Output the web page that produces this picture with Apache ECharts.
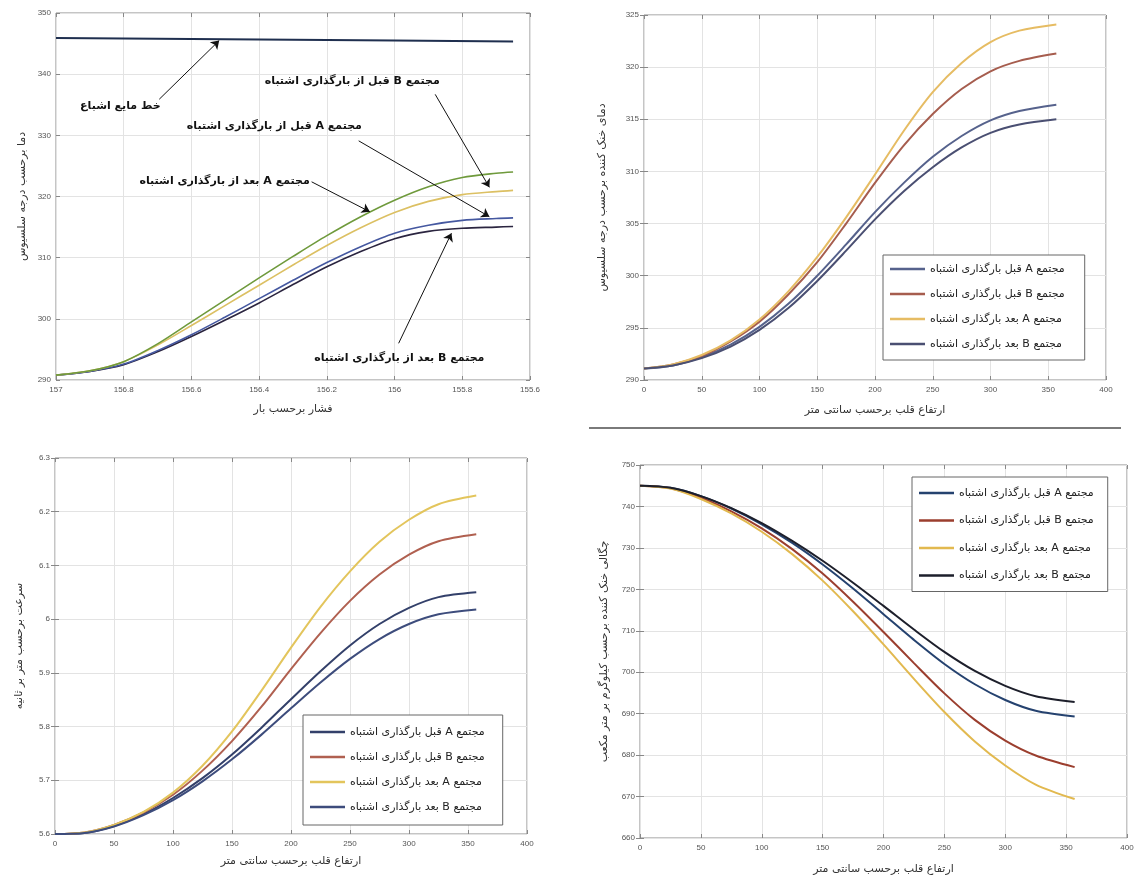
<!DOCTYPE html>
<html><head><meta charset="utf-8">
<script src="https://cdn.jsdelivr.net/npm/echarts@6/dist/echarts.min.js"></script>
<style>html,body{margin:0;padding:0;background:#fff}#c{width:1138px;height:879px}</style>
</head><body><div id="c"></div>
<script>
// ---------- DATA ----------
// Top-left: temperature vs pressure
const pressure = [157, 156.9, 156.8, 156.7, 156.6, 156.5, 156.4, 156.3, 156.2, 156.1, 156.0, 155.9, 155.8, 155.7, 155.65];
const tlAafter  = [290.8, 291.5, 293.0, 295.9, 299.5, 303.1, 306.7, 310.2, 313.6, 316.7, 319.4, 321.6, 323.1, 323.8, 324.0];
const tlBbefore = [290.8, 291.5, 293.0, 295.7, 298.9, 302.2, 305.5, 308.8, 312.0, 314.9, 317.4, 319.2, 320.3, 320.8, 321.0];
const tlAbefore = [290.8, 291.4, 292.6, 294.8, 297.4, 300.3, 303.3, 306.3, 309.2, 311.8, 314.0, 315.3, 316.1, 316.4, 316.5];
const tlBafter  = [290.8, 291.4, 292.5, 294.6, 297.1, 299.8, 302.6, 305.6, 308.5, 311.0, 313.1, 314.3, 314.8, 315.0, 315.1];
const satPressure = [157, 156.5, 156.0, 155.65];
const satTemp     = [345.9, 345.7, 345.5, 345.35];

// Core height (cm) for the three other panels
const heights = [0, 25, 50, 75, 100, 125, 150, 175, 200, 225, 250, 275, 300, 325, 357];
// Top-right: coolant temperature
const trAbefore = [291.1, 291.4, 292.2, 293.4, 295.1, 297.3, 300.0, 303.0, 306.1, 308.9, 311.4, 313.4, 314.9, 315.8, 316.4];
const trBbefore = [291.1, 291.5, 292.3, 293.7, 295.6, 298.2, 301.3, 305.0, 308.9, 312.5, 315.5, 317.9, 319.6, 320.6, 321.3];
const trAafter  = [291.1, 291.5, 292.4, 293.8, 295.8, 298.5, 301.8, 305.6, 309.7, 313.9, 317.6, 320.4, 322.4, 323.5, 324.1];
const trBafter  = [291.1, 291.4, 292.1, 293.2, 294.8, 296.9, 299.5, 302.4, 305.4, 308.1, 310.4, 312.3, 313.7, 314.5, 315.0];
// Bottom-left: velocity
const blAbefore = [5.600, 5.602, 5.615, 5.637, 5.667, 5.704, 5.748, 5.798, 5.851, 5.903, 5.951, 5.991, 6.021, 6.041, 6.050];
const blBbefore = [5.600, 5.603, 5.617, 5.640, 5.673, 5.718, 5.773, 5.837, 5.907, 5.974, 6.034, 6.083, 6.120, 6.145, 6.158];
const blAafter  = [5.600, 5.603, 5.617, 5.641, 5.677, 5.727, 5.791, 5.867, 5.947, 6.023, 6.089, 6.144, 6.185, 6.214, 6.230];
const blBafter  = [5.600, 5.602, 5.614, 5.635, 5.663, 5.698, 5.739, 5.785, 5.834, 5.882, 5.926, 5.963, 5.991, 6.009, 6.018];
// Bottom-right: coolant density
const brAbefore = [745, 744.5, 742.5, 739.5, 735.7, 731.2, 726.0, 720.2, 714.0, 707.8, 702.0, 697.1, 693.3, 690.7, 689.3];
const brBbefore = [745, 744.4, 742.1, 738.8, 734.7, 729.7, 723.8, 717.0, 709.7, 702.2, 694.9, 688.5, 683.5, 679.9, 677.1];
const brAafter  = [745, 744.3, 741.8, 738.3, 733.9, 728.5, 722.1, 714.7, 706.7, 698.4, 690.4, 683.3, 677.5, 672.9, 669.4];
const brBafter  = [745, 744.5, 742.5, 739.6, 736.0, 731.7, 726.9, 721.6, 716.0, 710.3, 704.9, 700.3, 696.7, 694.2, 692.8];

// Labels
const legendNames = ['مجتمع A قبل بارگذاری اشتباه', 'مجتمع B قبل بارگذاری اشتباه', 'مجتمع A بعد بارگذاری اشتباه', 'مجتمع B بعد بارگذاری اشتباه'];
const xNames = ['فشار برحسب بار', 'ارتفاع قلب برحسب سانتی متر', 'ارتفاع قلب برحسب سانتی متر', 'ارتفاع قلب برحسب سانتی متر'];
const yNames = ['دما برحسب درجه سلسیوس', 'دمای خنک کننده برحسب درجه سلسیوس', 'سرعت برحسب متر بر ثانیه', 'چگالی خنک کننده برحسب کیلوگرم بر متر مکعب'];
// Annotations (top-left), in data units: text centre and arrow from/to
const annTexts = ['خط مایع اشباع', 'مجتمع B قبل از بارگذاری اشتباه', 'مجتمع A قبل از بارگذاری اشتباه', 'مجتمع A بعد از بارگذاری اشتباه', 'مجتمع B بعد از بارگذاری اشتباه'];
const annAt    = [[156.81, 334.8], [156.125, 338.9], [156.355, 331.5], [156.502, 322.5], [155.986, 293.6]];
const annFrom  = [[156.695, 335.9], [155.88, 336.7], [156.106, 329.1], [156.245, 322.4], [155.988, 296.0]];
const annTo    = [[156.518, 345.5], [155.72, 321.5], [155.72, 316.7], [156.073, 317.5], [155.832, 314.0]];

// ---------- CHART ----------
const rtl = s => '\u202B' + s + '\u202C';
const FA = 'DejaVu Sans';
const LAT = 'Liberation Sans';
const fmt = v => String(parseFloat(Number(v).toFixed(2)));

const grids = [
  {left: 56, top: 13, width: 474, height: 367},
  {left: 644, top: 15, width: 462, height: 365},
  {left: 55, top: 458, width: 472, height: 376},
  {left: 640, top: 465, width: 487, height: 373}
];
const axCfg = [
  {xmin: 155.6, xmax: 157, xint: 0.2, inv: true, ymin: 290, ymax: 350, yint: 10, xgap: 24, ygap: 28},
  {xmin: 0, xmax: 400, xint: 50, ymin: 290, ymax: 325, yint: 5, xgap: 25, ygap: 36},
  {xmin: 0, xmax: 400, xint: 50, ymin: 5.6, ymax: 6.3, yint: 0.1, xgap: 22, ygap: 30},
  {xmin: 0, xmax: 400, xint: 50, ymin: 660, ymax: 750, yint: 10, xgap: 26, ygap: 30}
];

const xAxis = [], yAxis = [];
axCfg.forEach((c, i) => {
  xAxis.push({type: 'value', gridIndex: i, min: c.xmin, max: c.xmax, interval: c.xint, inverse: !!c.inv,
    name: rtl(xNames[i]), nameLocation: 'middle', nameGap: c.xgap,
    nameTextStyle: {fontFamily: FA, fontSize: 11, color: '#333'},
    axisLine: {show: false}, axisTick: {inside: true, length: 4, lineStyle: {color: '#888'}},
    axisLabel: {fontFamily: LAT, fontSize: 8, color: '#555', margin: 6, formatter: fmt},
    splitLine: {show: true, lineStyle: {color: '#e3e3e3', width: 1}}});
  yAxis.push({type: 'value', gridIndex: i, min: c.ymin, max: c.ymax, interval: c.yint,
    name: rtl(yNames[i]), nameLocation: 'middle', nameGap: c.ygap,
    nameTextStyle: {fontFamily: FA, fontSize: 11, color: '#333'},
    axisLine: {show: false}, axisTick: {inside: true, length: 4, lineStyle: {color: '#888'}},
    axisLabel: {fontFamily: LAT, fontSize: 8, color: '#555', margin: 5, formatter: fmt},
    splitLine: {show: true, lineStyle: {color: '#e3e3e3', width: 1}}});
});
axCfg.forEach((c, i) => {
  xAxis.push({type: 'value', gridIndex: i, position: 'top', min: c.xmin, max: c.xmax, interval: c.xint, inverse: !!c.inv,
    axisLine: {show: false}, axisTick: {inside: true, length: 4, lineStyle: {color: '#888'}},
    axisLabel: {show: false}, splitLine: {show: false}});
  yAxis.push({type: 'value', gridIndex: i, position: 'right', min: c.ymin, max: c.ymax, interval: c.yint,
    axisLine: {show: false}, axisTick: {inside: true, length: 4, lineStyle: {color: '#888'}},
    axisLabel: {show: false}, splitLine: {show: false}});
});

const zip = (xs, ys) => xs.map((x, j) => [x, ys[j]]);
function line(name, gi, xs, ys, color, width) {
  return {type: 'line', name: name, xAxisIndex: gi, yAxisIndex: gi, data: zip(xs, ys),
    smooth: 0.3, symbol: 'none', showSymbol: false, silent: true,
    lineStyle: {color: color, width: width}, itemStyle: {color: color}, z: 3};
}

const series = [];
// top-left
const sat = line('sat', 0, satPressure, satTemp, '#1f2f4f', 2);
sat.smooth = false;
sat.markLine = {silent: true, symbol: ['none', 'arrow'], symbolSize: 8, animation: false,
  lineStyle: {color: '#111', width: 1, type: 'solid'}, label: {show: false},
  data: annFrom.map((f, k) => [{coord: f}, {coord: annTo[k]}])};
sat.markPoint = {silent: true, symbol: 'circle', symbolSize: 1, itemStyle: {color: 'rgba(0,0,0,0)'}, animation: false,
  label: {show: true, position: 'inside', formatter: p => p.name, color: '#111', fontSize: 11, fontWeight: 'bold', fontFamily: FA},
  data: annTexts.map((t, k) => ({name: rtl(t), coord: annAt[k]}))};
series.push(sat);
series.push(line('tlBafter', 0, pressure, tlBafter, '#2b2540', 1.6));
series.push(line('tlAbefore', 0, pressure, tlAbefore, '#4558a0', 1.6));
series.push(line('tlBbefore', 0, pressure, tlBbefore, '#dcc063', 1.6));
series.push(line('tlAafter', 0, pressure, tlAafter, '#6f9a3c', 1.6));

const palettes = [
  null,
  ['#56628c', '#a65d4e', '#e6bc63', '#4a4f72'],
  ['#33406a', '#b06050', '#e3c55c', '#3d4c7c'],
  ['#25426f', '#9b3e2e', '#e2b94f', '#1d1f2b']
];
const panelData = [null, [trAbefore, trBbefore, trAafter, trBafter], [blAbefore, blBbefore, blAafter, blBafter], [brAbefore, brBbefore, brAafter, brBafter]];
const uniq = (s, gi) => rtl(s) + '\u200B'.repeat(gi);
for (let gi = 1; gi <= 3; gi++) {
  panelData[gi].forEach((d, k) => series.push(line(uniq(legendNames[k], gi), gi, heights, d, palettes[gi][k], 2)));
}

const legendBoxes = [null,
  {left: 883, top: 255, padding: [7, 20, 9, 7], itemGap: 11},
  {left: 303, top: 715, padding: [10, 18, 11, 7], itemGap: 11},
  {left: 912, top: 477, padding: [9, 14, 9, 7], itemGap: 13.5}
];
const legend = [];
for (let gi = 1; gi <= 3; gi++) {
  const b = legendBoxes[gi];
  legend.push({orient: 'vertical', left: b.left, top: b.top, padding: b.padding, itemGap: b.itemGap,
    backgroundColor: '#fff', borderColor: '#666', borderWidth: 1, borderRadius: 0,
    icon: 'rect', itemWidth: 35, itemHeight: 2.5, selectedMode: false,
    textStyle: {fontFamily: FA, fontSize: 11, color: '#222', lineHeight: 14},
    data: legendNames.map((n, k) => ({name: uniq(n, gi), itemStyle: {color: palettes[gi][k]}}))});
}

const chart = echarts.init(document.getElementById('c'), null, {renderer: 'canvas'});
chart.setOption({
  animation: false,
  backgroundColor: '#fff',
  grid: grids.map(g => Object.assign({show: true, borderColor: '#8a8a8a', borderWidth: 1, backgroundColor: 'transparent', containLabel: false}, g)),
  xAxis: xAxis, yAxis: yAxis, series: series, legend: legend,
  graphic: [{type: 'line', silent: true, shape: {x1: 589, y1: 428, x2: 1121, y2: 428}, style: {stroke: '#7a7a7a', lineWidth: 2}}]
});
</script></body></html>
